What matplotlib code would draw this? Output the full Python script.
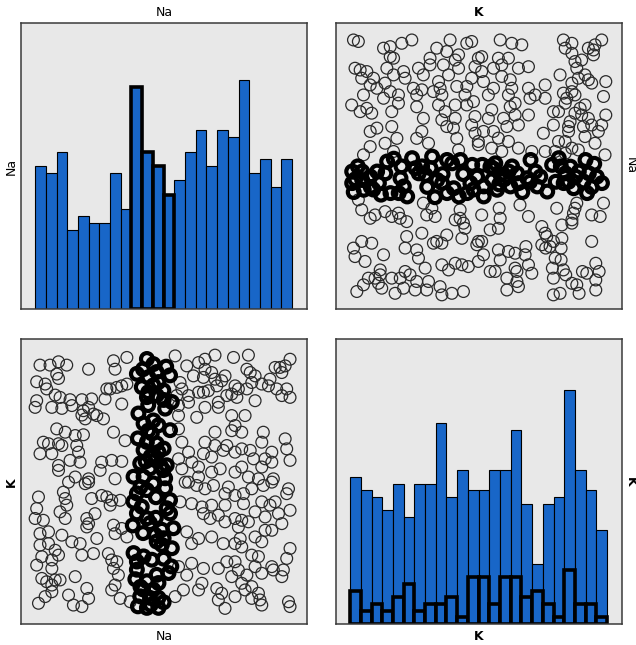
import matplotlib
matplotlib.use("Agg")
import matplotlib.pyplot as plt
import numpy as np

# histogram counts (24 bins each, data range 0-100)
na_counts = [20, 19, 22, 11, 13, 12, 12, 19, 14, 31, 22, 20, 16, 18, 22, 25, 20, 25, 24, 32, 19, 21, 17, 21]
na_selected_bins = [9, 10, 11, 12]          # bins drawn with the heavy outline
k_counts = [22, 20, 19, 17, 21, 16, 21, 21, 30, 19, 23, 20, 20, 23, 23, 29, 18, 9, 18, 19, 35, 23, 20, 14]
k_sel_counts = [5, 2, 3, 2, 4, 6, 2, 3, 3, 4, 1, 7, 7, 3, 7, 7, 4, 5, 3, 1, 8, 3, 3, 1]

# scatter points (Na, K), percent of range
na_pts = [
    1.9, 5.8, 9.1, 12.3, 20.8, 30.5, 31.1, 35.7, 8.4, 9.1, 0.6, 3.9, 4.5, 7.8, 9.7, 13.6, 18.2, 22.0, 0.6, 0.0,
    6.5, 10.4, 14.3, 18.8, 20.8, 22.7, 24.0, 19.5, 18.2, 26.6, 27.9, 29.2, 31.8, 33.7, 35.7, 33.7, 27.2, 8.4, 11.7, 15.6,
    18.8, 30.5, 3.2, 5.2, 9.1, 10.4, 16.2, 1.9, 6.5, 16.9, 13.6, 17.5, 9.1, 9.1, 25.9, 29.8, 33.7, 25.3, 15.6, 20.8,
    31.1, 35.0,
    54.5, 66.1, 70.0, 77.2, 83.0, 59.0, 63.6, 66.1, 68.7, 61.6, 65.5, 73.9, 72.6, 70.0, 70.7, 77.8, 82.4, 83.7, 85.6, 84.3,
    82.4, 88.2, 91.4, 93.4, 95.3, 97.3, 99.2, 96.0, 90.8, 94.0, 97.9, 99.2, 96.0, 56.4, 57.1, 55.1, 59.7, 59.7, 63.6, 65.5,
    67.4, 76.5, 79.1, 78.5, 74.6, 71.3, 66.1, 62.9, 71.3, 85.6, 55.8, 55.8, 55.8, 76.5, 81.7, 77.8, 80.4, 76.5, 70.0, 88.8,
    88.2, 97.3, 97.9, 57.1, 66.1, 70.0, 73.2, 59.7, 65.5, 68.7, 74.6, 77.8, 80.4, 83.7, 85.0, 89.5, 92.1, 92.1, 99.2, 55.8,
    61.0, 63.6, 57.1, 68.7, 72.0, 77.8, 80.4, 83.0, 86.9, 92.7, 88.2, 59.7, 63.6,
    13.0, 19.5, 20.8, 1.3, 11.0, 11.7, 12.3, 9.7, 11.7, 0.6, 0.0, 3.2, 22.0, 25.9, 27.9, 29.8, 33.1, 29.2, 20.1, 20.8,
    23.3, 20.1, 24.0, 30.5, 33.7, 35.7, 31.1, 1.9, 5.2, 10.4, 1.9, 5.2, 7.8, 9.1, 6.5, 2.6, 0.6, 6.5, 14.3, 17.5,
    18.2, 22.7, 28.5, 29.8, 31.8, 32.4, 30.5, 15.6, 2.6, 4.5, 7.8, 9.7, 6.5, 6.5, 3.9, 1.3, 13.0, 14.9, 18.2, 20.1,
    20.8, 29.8, 31.1, 33.1, 37.0,
    58.4, 62.9, 66.1, 69.4, 73.9, 75.2, 77.8, 81.1, 84.3, 88.8, 92.1, 98.6, 97.9, 56.4, 60.9, 64.9, 68.7, 65.5, 68.1, 71.3,
    73.9, 73.9, 77.8, 80.4, 79.1, 83.0, 81.1, 85.6, 88.2, 89.5, 91.4, 93.4, 94.7, 92.1, 89.5, 96.0, 99.2, 59.0, 60.9, 63.6,
    68.7, 73.2, 77.8, 79.8, 80.4, 85.6, 88.2, 84.3, 86.9, 99.2, 97.9, 55.8, 59.0, 60.9, 65.5, 71.3, 74.6, 77.8, 79.1, 82.4,
    76.5, 80.4, 85.6, 88.2, 92.1, 92.7, 96.6, 96.0, 57.7, 54.5, 63.6, 64.9, 70.7, 72.6, 71.3, 73.9, 77.8, 81.7, 84.3, 84.3,
    86.9, 88.2, 87.5, 98.6, 99.2,
]
k_pts = [
    95.6, 95.6, 96.9, 95.6, 94.0, 97.3, 94.0, 98.6, 92.1, 90.4, 89.1, 88.2, 86.3, 83.9, 83.0, 82.1, 82.1, 82.4, 81.7, 79.1,
    79.1, 78.7, 79.8, 77.8, 79.1, 76.5, 75.9, 74.6, 76.1, 74.6, 86.3, 86.3, 86.9, 87.5, 88.2, 80.4, 82.4, 70.7, 69.4, 68.1,
    68.4, 69.4, 65.5, 64.9, 64.9, 64.2, 64.2, 61.0, 61.0, 61.6, 58.4, 57.7, 56.4, 54.5, 57.7, 58.4, 58.0, 54.5, 51.9, 51.2,
    51.2, 66.1,
    99.2, 97.9, 99.5, 98.6, 99.5, 95.3, 96.6, 94.0, 92.7, 91.4, 90.8, 91.4, 89.5, 90.1, 87.5, 87.5, 94.0, 92.7, 91.4, 88.8,
    86.3, 88.2, 90.1, 94.7, 94.7, 95.3, 97.9, 92.7, 87.5, 86.3, 86.3, 83.0, 83.7, 88.8, 86.3, 83.7, 83.7, 81.1, 85.0, 85.0,
    85.6, 84.3, 86.3, 83.0, 83.7, 81.1, 79.1, 75.2, 79.1, 81.7, 75.9, 79.8, 70.7, 75.9, 75.9, 72.0, 69.4, 70.0, 69.4, 69.4,
    65.5, 66.8, 62.9, 65.5, 65.5, 64.2, 62.3, 61.6, 61.0, 59.7, 64.2, 61.6, 62.9, 62.3, 59.0, 59.0, 57.7, 61.6, 58.4, 59.0,
    57.7, 55.8, 55.1, 53.8, 55.1, 53.8, 55.8, 51.9, 51.2, 51.2, 55.8, 49.9, 51.9,
    49.9, 49.3, 49.9, 44.1, 46.0, 43.5, 40.9, 38.3, 35.7, 39.6, 35.7, 35.0, 43.5, 44.7, 44.1, 42.8, 42.8, 40.9, 35.7, 33.7,
    37.6, 32.4, 27.9, 33.1, 31.8, 28.5, 29.8, 29.8, 30.5, 29.2, 25.3, 25.9, 23.3, 21.4, 19.5, 20.8, 17.5, 16.2, 26.6, 25.9,
    21.4, 22.0, 22.0, 19.5, 18.8, 13.6, 16.2, 13.0, 12.3, 11.0, 11.7, 11.7, 9.7, 7.1, 5.2, 2.6, 5.8, 1.9, 1.3, 8.4,
    4.5, 7.8, 9.7, 4.5, 3.2,
    49.9, 48.6, 47.3, 48.6, 45.4, 48.0, 44.7, 45.4, 47.3, 48.6, 49.9, 47.3, 45.4, 42.2, 41.5, 40.2, 40.9, 37.6, 35.7, 37.0,
    40.9, 34.4, 35.7, 35.0, 32.4, 34.4, 41.5, 38.3, 42.2, 36.3, 40.9, 42.2, 37.6, 31.1, 31.1, 33.7, 38.9, 30.5, 25.9, 27.9,
    28.5, 25.9, 25.9, 27.9, 24.6, 28.5, 26.6, 21.4, 20.8, 24.0, 20.1, 16.9, 13.6, 18.2, 16.2, 16.2, 18.8, 18.8, 15.6, 13.6,
    13.0, 10.4, 16.9, 14.3, 16.9, 15.6, 15.6, 13.0, 7.8, 5.2, 7.8, 10.4, 8.4, 6.5, 3.9, 0.6, 5.2, 7.8, 9.1, 4.5,
    6.5, 1.9, 3.9, 3.2, 1.3,
]

# selected records (heavy circles)
na_sel_pts = [
    48.0, 43.5, 40.0, 48.0, 44.7, 40.9, 46.0, 48.0, 43.5, 51.9, 47.3, 39.6, 45.4, 42.2, 38.3, 39.6, 53.2, 49.3, 47.3, 46.7,
    53.8, 49.3, 44.7, 43.5, 52.5, 51.2, 41.5, 39.6, 38.3, 52.5, 39.6, 50.6, 43.5, 46.0, 50.6, 38.3, 42.2,
    49.9, 44.7, 51.2, 40.9, 46.7, 48.0, 42.2, 47.3, 43.5, 45.4, 52.5, 48.0, 42.2, 40.2, 50.6, 53.2, 47.3, 43.5, 49.9, 46.0,
    41.5, 52.5, 47.3, 39.6, 44.1, 43.5,
    45, 50, 42, 39, 50, 42, 47, 41, 43, 45, 50, 40, 44, 46, 50, 44, 48, 42, 46, 47, 50,
    41, 53, 38, 49, 44, 51,
]
k_sel_pts = [
    0.8, 0.8, 1.4, 4.7, 4.7, 5.3, 7.9, 10.5, 11.2, 14.4, 13.7, 15.7, 19.6, 20.9, 22.2, 18.9, 24.1, 25.4, 26.7, 29.3,
    31.9, 31.3, 33.9, 35.8, 37.7, 39.7, 40.3, 37.7, 42.3, 42.9, 45.5, 47.5, 46.8, 49.4, 51.4, 52.0, 52.0,
    54.6, 55.3, 56.5, 57.2, 58.5, 61.7, 62.4, 65.0, 65.6, 68.9, 70.2, 72.1, 72.8, 76.7, 78.6, 81.2, 83.8, 83.1, 85.7, 87.7,
    87.0, 91.6, 92.9, 92.2, 90.9, 98.0,
    2, 3, 8, 12, 28, 30, 44, 48, 58, 60, 63, 67, 70, 74, 82, 85, 89, 94, 96, 36, 20,
    9, 17, 33, 56, 80, 95,
]

bar_blue = "#1866c8"
panel_bg = "#e8e8e8"
lim = (-5.5, 105.8)

fig = plt.figure(figsize=(6.36, 6.45), dpi=100)
W, H = 636, 645

def panel(x0, y0, x1, y1):
    ax = fig.add_axes([x0 / W, 1 - y1 / H, (x1 - x0) / W, (y1 - y0) / H])
    ax.set_facecolor(panel_bg)
    ax.set_xticks([])
    ax.set_yticks([])
    for s in ax.spines.values():
        s.set_color("#3a3a3a")
        s.set_linewidth(1.1)
    return ax

ax_tl = panel(21, 23, 307, 309)
ax_tr = panel(336, 23, 622, 309)
ax_bl = panel(21, 339, 307, 624)
ax_br = panel(336, 339, 622, 624)

edges = np.linspace(0, 100, 25)
width = edges[1] - edges[0]
left = edges[:-1]

# Na histogram
ax_tl.bar(left, na_counts, width=width, align="edge", color=bar_blue,
          edgecolor="black", linewidth=0.8)
sel_left = [left[i] for i in na_selected_bins]
sel_h = [na_counts[i] for i in na_selected_bins]
ax_tl.bar(sel_left, sel_h, width=width, align="edge", color=bar_blue,
          edgecolor="black", linewidth=2.6)
ax_tl.set_xlim(*lim)
ax_tl.set_ylim(0, 40)

# K histogram
ax_br.bar(left, k_counts, width=width, align="edge", color=bar_blue,
          edgecolor="black", linewidth=0.8)
ax_br.bar(left, k_sel_counts, width=width, align="edge", color=bar_blue,
          edgecolor="black", linewidth=2.6)
ax_br.set_xlim(*lim)
ax_br.set_ylim(0, 42.6)

# scatter panels
ms = 72
ax_bl.scatter(na_pts, k_pts, s=ms, facecolors="none", edgecolors="#2a2a2a", linewidths=0.9)
ax_bl.scatter(na_sel_pts, k_sel_pts, s=ms, facecolors="none", edgecolors="black", linewidths=3.0)
ax_bl.set_xlim(*lim)
ax_bl.set_ylim(*lim)

ax_tr.scatter(k_pts, na_pts, s=ms, facecolors="none", edgecolors="#2a2a2a", linewidths=0.9)
ax_tr.scatter(k_sel_pts, na_sel_pts, s=ms, facecolors="none", edgecolors="black", linewidths=3.0)
ax_tr.set_xlim(*lim)
ax_tr.set_ylim(*lim)

# variable labels round the matrix
fs = 9
fig.text(164 / W, 1 - 13 / H, "Na", ha="center", va="center", fontsize=fs)
fig.text(479 / W, 1 - 13 / H, "K", ha="center", va="center", fontsize=fs, fontweight="bold")
fig.text(164 / W, 1 - 636 / H, "Na", ha="center", va="center", fontsize=fs)
fig.text(479 / W, 1 - 636 / H, "K", ha="center", va="center", fontsize=fs, fontweight="bold")
fig.text(11 / W, 1 - 166 / H, "Na", ha="center", va="center", fontsize=fs, rotation=90)
fig.text(11 / W, 1 - 482 / H, "K", ha="center", va="center", fontsize=fs, rotation=90, fontweight="bold")
fig.text(630 / W, 1 - 166 / H, "Na", ha="center", va="center", fontsize=fs, rotation=270)
fig.text(630 / W, 1 - 482 / H, "K", ha="center", va="center", fontsize=fs, rotation=270, fontweight="bold")

fig.savefig("out.png", dpi=100, facecolor="white")
